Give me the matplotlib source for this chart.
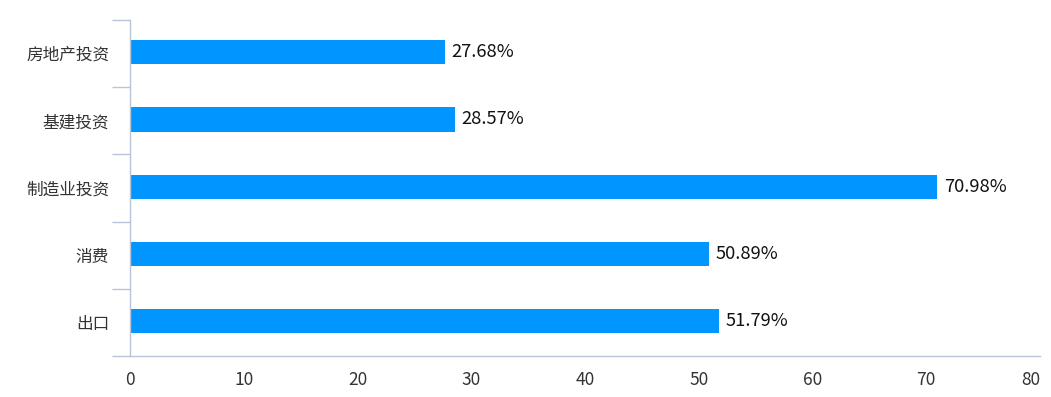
import matplotlib.pyplot as plt
import numpy as np

plt.rcParams['font.family'] = ['Noto Sans CJK SC', 'DejaVu Sans']

# données
categories = ["房地产投资", "基建投资", "制造业投资", "消费", "出口"]
values = [27.68, 28.57, 70.98, 50.89, 51.79]
xticks = [0, 10, 20, 30, 40, 50, 60, 70, 80]

axis_color = "#B8C4D8"
bar_color = "#0095FF"

fig = plt.figure(figsize=(10.51, 3.97), dpi=100)
ax = fig.add_axes([130 / 1051, 41 / 397, 910 / 1051, 336 / 397])

n = len(categories)
pos = np.arange(n)[::-1]  # premier en haut
ax.barh(pos + 0.02, values, height=0.36, color=bar_color)

for p, v in zip(pos, values):
    ax.text(v + 0.6, p + 0.02, f"{v:.2f}%", va="center", ha="left",
            fontsize=13.2, color="#111111")

ax.set_xlim(0, 80)
ax.set_ylim(-0.5, n - 0.5)

# ticks y aux limites des catégories, étiquettes au centre
ax.set_yticks(np.arange(n + 1) - 0.5)
ax.set_yticklabels([])
ax.set_yticks(pos, minor=True)
ax.set_yticklabels(categories, minor=True, fontsize=12, color="#333333")
ax.tick_params(axis="y", which="major", length=13, color=axis_color, width=1)
ax.tick_params(axis="y", which="minor", length=0, pad=15)

ax.set_xticks(xticks)
ax.set_xticklabels([str(t) for t in xticks], fontsize=12.5, color="#333333")
ax.tick_params(axis="x", length=0, pad=11)
ax.get_xticklabels()[-1].set_ha("right")

for s in ["top", "right"]:
    ax.spines[s].set_visible(False)
for s in ["left", "bottom"]:
    ax.spines[s].set_color(axis_color)
    ax.spines[s].set_linewidth(1)

plt.savefig("out.png", dpi=100)
